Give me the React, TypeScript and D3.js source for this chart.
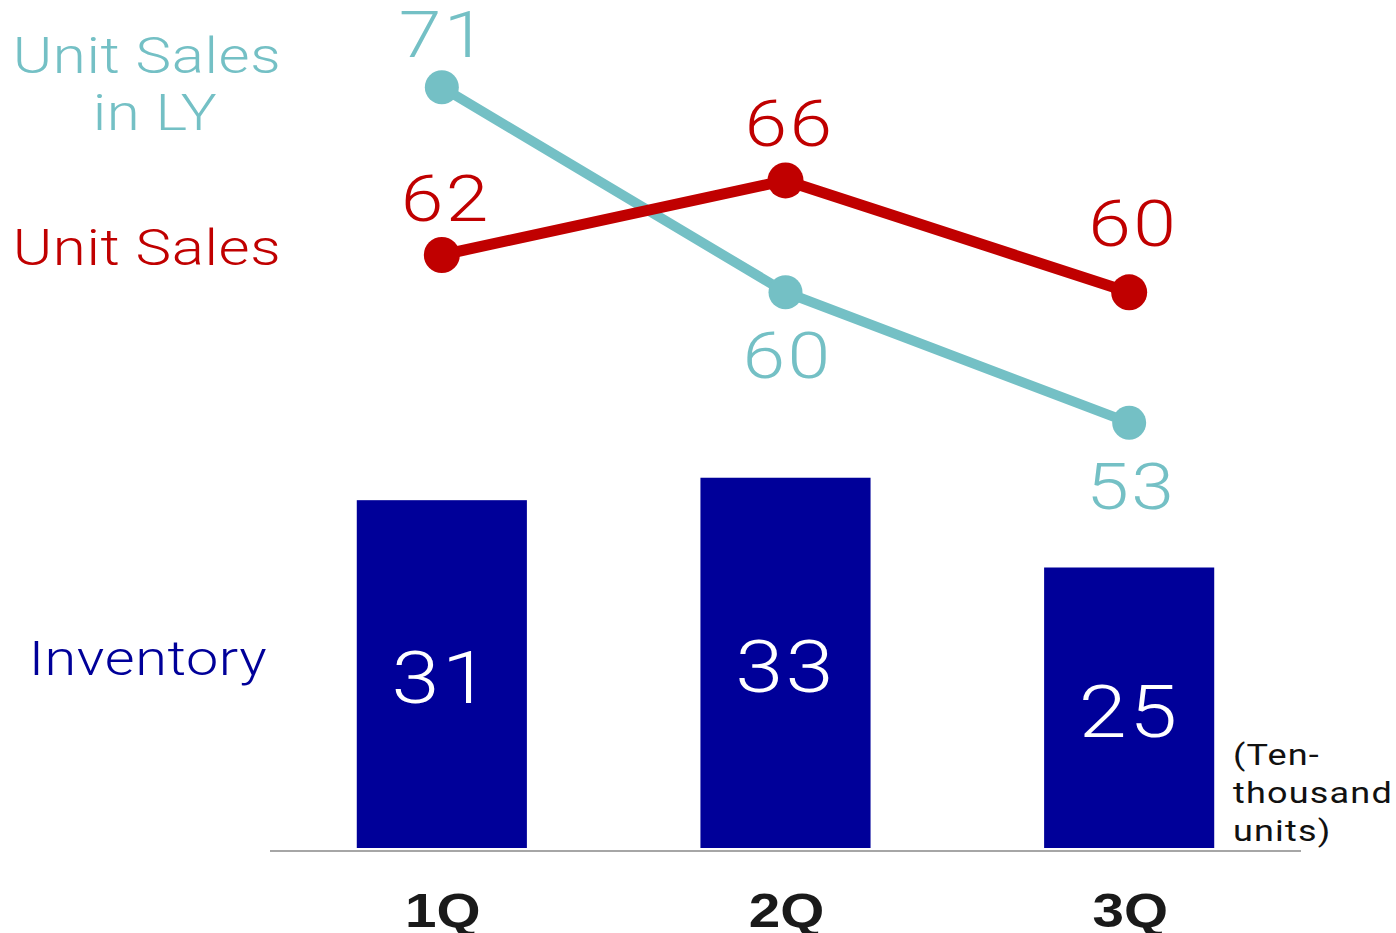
import React from "react";
import * as d3 from "d3";

const categories = ["1Q", "2Q", "3Q"];
const inventory = [31, 33, 25];
const unitSales = [62, 66, 60];
const unitSalesLY = [71, 60, 53];
const unitLines = ["(Ten-", "thousand", "units)"];

const W = 1396;
const H = 933;
const TEAL = "#74C0C5";
const RED = "#C00000";
const NAVY = "#000099";
const FONT = "Roboto, 'Liberation Sans', Arial, sans-serif";
const BOLD_FONT = "'Liberation Sans', Arial, sans-serif";
const SX = 1.2;

function T({ x, y, size, fill, children, anchor = "middle", weight = 300, ls = 0, font = FONT, sx = SX }: any) {
  return (
    <text
      transform={`translate(${x},${y}) scale(${sx},1)`}
      fontFamily={font}
      fontSize={size}
      fontWeight={weight}
      fill={fill}
      textAnchor={anchor}
      letterSpacing={ls}
    >
      {children}
    </text>
  );
}

export default function App() {
  const x = d3.scaleBand<string>().domain(categories).range([270, 1301]).paddingInner(0.505).paddingOuter(0.2525);
  const cx = (c: string) => (x(c) as number) + x.bandwidth() / 2;
  const yBar = d3.scaleLinear().domain([0, 40]).range([848, 848 - 40 * 11.22]);
  const yLine = d3.scaleLinear().domain([53, 71]).range([422.7, 87.3]);

  const line = d3
    .line<number>()
    .x((_, i) => cx(categories[i]))
    .y((d) => yLine(d));

  return (
    <svg width={W} height={H} style={{ position: "absolute", left: 0, top: 0, background: "#fff" }}>
      {/* bars */}
      {categories.map((c, i) => {
        const top = yBar(inventory[i]);
        const bottom = yBar(0);
        return (
          <g key={c}>
            <rect x={x(c)} y={top} width={x.bandwidth()} height={bottom - top} fill={NAVY} />
            <T x={cx(c)} y={(top + bottom) / 2 + 29} size={72} fill="#fff" ls={2}>
              {inventory[i]}
            </T>
          </g>
        );
      })}
      {/* baseline */}
      <line x1={270} x2={1301} y1={851} y2={851} stroke="#A6A6A6" strokeWidth={2} />

      {/* lines */}
      <path d={line(unitSalesLY) || ""} fill="none" stroke={TEAL} strokeWidth={10} />
      <path d={line(unitSales) || ""} fill="none" stroke={RED} strokeWidth={11} />
      {unitSalesLY.map((v, i) => (
        <circle key={"ly" + i} cx={cx(categories[i])} cy={yLine(v)} r={17} fill={TEAL} />
      ))}
      {unitSales.map((v, i) => (
        <circle key={"us" + i} cx={cx(categories[i])} cy={yLine(v)} r={18} fill={RED} />
      ))}

      {/* line labels */}
      {unitSales.map((v, i) => {
        const lowest = v === d3.min(unitSales);
        return (
          <T key={"usl" + i} x={cx(categories[i]) + 4} y={yLine(v) - (lowest ? 46 : 34)} size={64} fill={RED} ls={2}>
            {v}
          </T>
        );
      })}
      {unitSalesLY.map((v, i) => {
        const above = v > unitSales[i];
        return (
          <T key={"lyl" + i} x={cx(categories[i]) + 2} y={above ? yLine(v) - 30 : yLine(v) + 86} size={64} fill={TEAL} ls={2}>
            {v}
          </T>
        );
      })}

      {/* category labels */}
      {categories.map((c) => (
        <T key={"c" + c} x={cx(c) + 1} y={927} size={48} fill="#1A1A1A" weight="bold" font={BOLD_FONT} sx={1.18}>
          {c}
        </T>
      ))}

      {/* series labels */}
      <T x={147} y={73} size={50} fill={TEAL} ls={0.5}>Unit Sales</T>
      <T x={155} y={130} size={50} fill={TEAL} ls={0.5}>in LY</T>
      <T x={147} y={265} size={50} fill={RED} ls={0.5}>Unit Sales</T>
      <T x={148} y={675} size={48} fill={NAVY} ls={0.5}>Inventory</T>

      {/* unit note */}
      {unitLines.map((s, i) => (
        <T key={"u" + i} x={1233} y={765 + i * 38} size={30} fill="#111" anchor="start" ls={1} weight={400}>
          {s}
        </T>
      ))}
    </svg>
  );
}
